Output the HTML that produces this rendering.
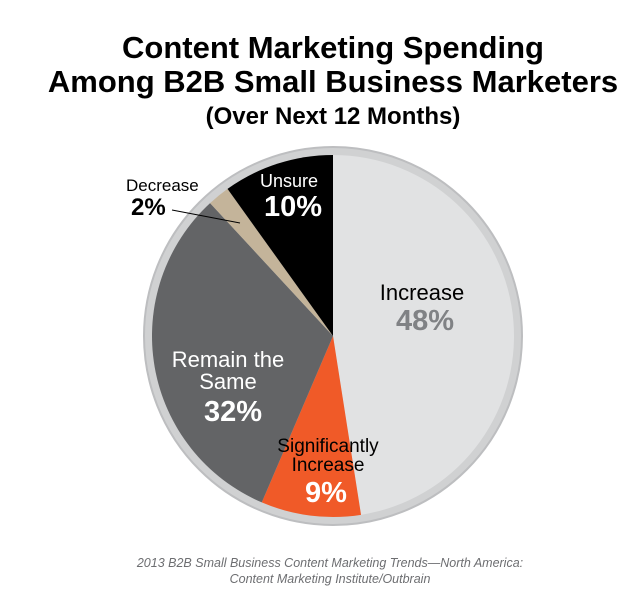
<!DOCTYPE html>
<html><head><meta charset="utf-8"><style>
body{margin:0;background:#fff;width:631px;height:613px;overflow:hidden}
svg{display:block}
text{font-family:"Liberation Sans Narrow","Liberation Sans",sans-serif}
</style></head><body>
<svg width="631" height="613">
<text x="333" y="58" text-anchor="middle" font-size="31" font-weight="bold" fill="#000">Content Marketing Spending</text>
<text x="333" y="92" text-anchor="middle" font-size="31" font-weight="bold" fill="#000">Among B2B Small Business Marketers</text>
<text x="333" y="124" text-anchor="middle" font-size="24" font-weight="bold" fill="#000">(Over Next 12 Months)</text>
<circle cx="333" cy="336" r="189" fill="#d0d1d2" stroke="#bdbec0" stroke-width="2"/>
<g id="slices"></g>
<line x1="172" y1="210" x2="240" y2="223" stroke="#000" stroke-width="1"/>
<g id="labels" font-size="22">
<text x="422" y="300" text-anchor="middle" fill="#000">Increase</text>
<text x="425" y="330" text-anchor="middle" font-size="29" font-weight="bold" fill="#808285">48%</text>
<text x="328" y="452" text-anchor="middle" font-size="19" fill="#000">Significantly</text>
<text x="328" y="471" text-anchor="middle" font-size="19" fill="#000">Increase</text>
<text x="326" y="502" text-anchor="middle" font-size="29" font-weight="bold" fill="#fff">9%</text>
<text x="228" y="367" text-anchor="middle" fill="#fff">Remain the</text>
<text x="228" y="389" text-anchor="middle" fill="#fff">Same</text>
<text x="233" y="421" text-anchor="middle" font-size="29" font-weight="bold" fill="#fff">32%</text>
<text x="289" y="187" text-anchor="middle" font-size="18" fill="#fff">Unsure</text>
<text x="293" y="216" text-anchor="middle" font-size="29" font-weight="bold" fill="#fff">10%</text>
<text x="126" y="191" font-size="17" fill="#000">Decrease</text>
<text x="131" y="215" font-size="24" font-weight="bold" fill="#000">2%</text>
</g>
<text x="330" y="567" text-anchor="middle" font-size="12.5" font-style="italic" fill="#6d6e71">2013 B2B Small Business Content Marketing Trends—North America:</text>
<text x="330" y="583" text-anchor="middle" font-size="12.5" font-style="italic" fill="#6d6e71">Content Marketing Institute/Outbrain</text>
</svg>
<script>
const categories=["Increase","Significantly Increase","Remain the Same","Decrease","Unsure"];
const values=[48,9,32,2,10];
const colors=["#e1e2e3","#f05a28","#636466","#c4b49a","#000000"];
const cx=333,cy=336,r=181;
const total=values.reduce((a,b)=>a+b,0);
const g=document.getElementById('slices');
let a0=0;
values.forEach((v,i)=>{
  const a1=a0+v/total*Math.PI*2;
  const p=a=>[cx+r*Math.sin(a),cy-r*Math.cos(a)];
  const [x0,y0]=p(a0),[x1,y1]=p(a1);
  const large=(a1-a0)>Math.PI?1:0;
  const path=document.createElementNS('http://www.w3.org/2000/svg','path');
  path.setAttribute('d',`M${cx},${cy}L${x0},${y0}A${r},${r} 0 ${large} 1 ${x1},${y1}Z`);
  path.setAttribute('fill',colors[i]);
  
  
  g.appendChild(path);
  a0=a1;
});
</script>
</body></html>
